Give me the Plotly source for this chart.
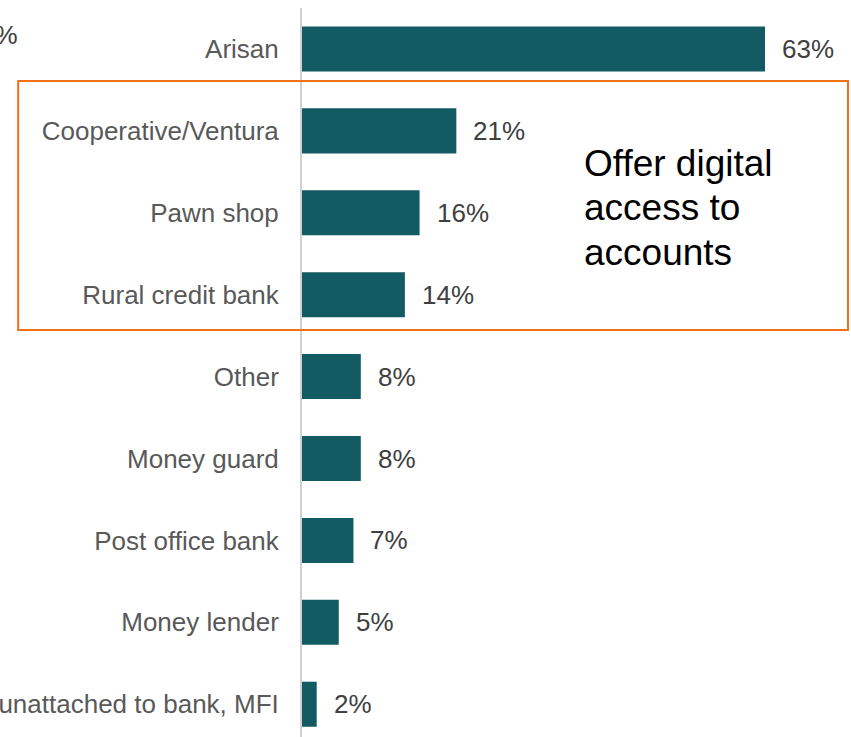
import plotly.graph_objects as go

# Share of respondents using each savings channel (%)
categories = [
    "Arisan",
    "Cooperative/Ventura",
    "Pawn shop",
    "Rural credit bank",
    "Other",
    "Money guard",
    "Post office bank",
    "Money lender",
    "Savings group unattached to bank, MFI",
]
values = [63, 21, 16, 14, 8, 8, 7, 5, 2]
value_labels = [f"{v}%" for v in values]

callout_lines = ["Offer digital", "access to", "accounts"]

BAR = "#135B62"
FONT = "Liberation Sans, Arial, sans-serif"

fig = go.Figure(
    go.Bar(
        x=values,
        y=categories,
        orientation="h",
        marker=dict(color=BAR, line=dict(width=0)),
        hoverinfo="skip",
    )
)

# Value labels to the right of each bar
for cat, v, lab in zip(categories, values, value_labels):
    fig.add_annotation(
        x=v, y=cat, text=lab, showarrow=False,
        xanchor="left", yanchor="middle", xshift=15,
        font=dict(family=FONT, size=26, color="#404040"),
    )

# Highlight box around the formal-but-local channels
fig.add_shape(
    type="rect", xref="paper", yref="y",
    x0=-0.517, x1=0.9945, y0=0.39, y1=3.43,
    line=dict(color="#F07118", width=2), fillcolor="rgba(0,0,0,0)",
)
for i, line in enumerate(callout_lines):
    fig.add_annotation(
        xref="paper", yref="y", x=0.510, y=1.4 + i * 0.54,
        text=line, showarrow=False, xanchor="left", yanchor="middle",
        font=dict(family=FONT, size=37, color="#000000"),
    )

# Scale label from the neighbouring panel
fig.add_annotation(
    xref="paper", yref="paper", x=-0.514, y=0.963,
    text="0%", showarrow=False, xanchor="right", yanchor="middle",
    font=dict(family=FONT, size=26, color="#404040"),
)

fig.update_layout(
    width=851, height=737,
    margin=dict(l=302, r=0, t=8, b=0, autoexpand=False),
    paper_bgcolor="white", plot_bgcolor="white",
    bargap=0.45, showlegend=False,
    font=dict(family=FONT),
)
fig.update_xaxes(
    range=[0, 74.7], visible=False, showgrid=False, zeroline=False,
)
fig.update_yaxes(
    range=[8.4, -0.5], automargin=False,
    showline=True, linecolor="#D0D0D0", linewidth=2,
    showgrid=False, zeroline=False, ticks="",
    ticklabelstandoff=16,
    tickfont=dict(family=FONT, size=26, color="#595959"),
)

fig.write_html("out.html")
